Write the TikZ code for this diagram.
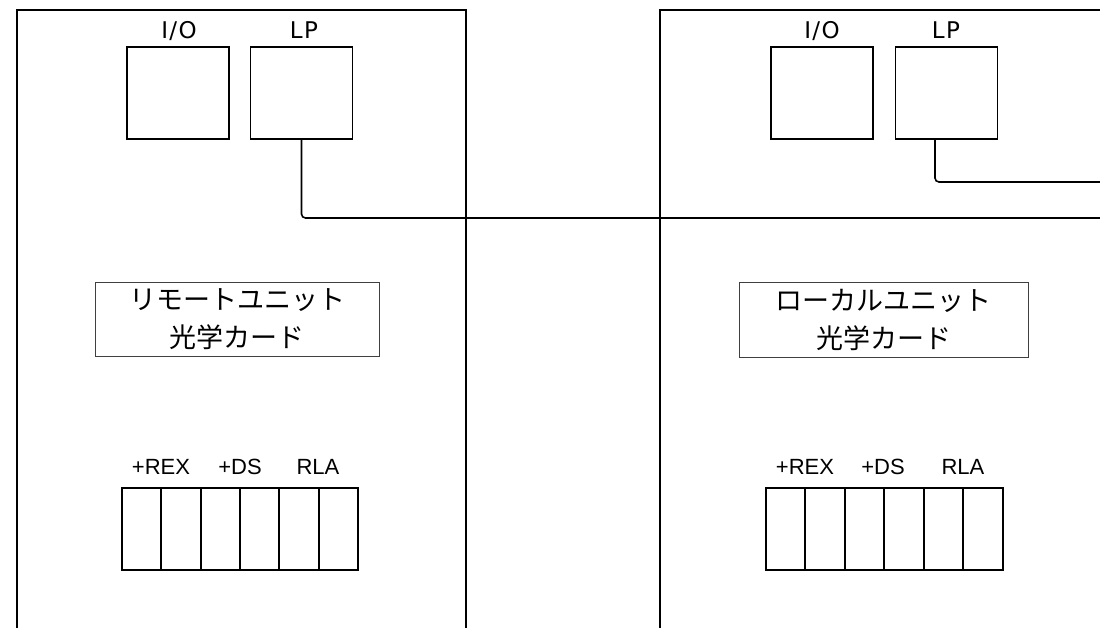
\documentclass[tikz,border=0pt]{standalone}
\usepackage{fontspec}
\newfontfamily\jpfont{Noto Sans CJK JP}
\newfontfamily\hvfont{Liberation Sans}
\newfontfamily\geofont[LetterSpace=6]{DejaVu Sans}
\begin{document}
\begin{tikzpicture}[x=1pt,y=-1pt,
  panel/.style={draw,line width=1.6pt,rectangle,inner sep=0pt,anchor=north west},
  sqbox/.style={draw,line width=1.6pt,rectangle,inner sep=0pt,minimum width=102pt,minimum height=92pt},
  toplabel/.style={font=\geofont\fontsize{23}{27}\selectfont,inner sep=0pt,anchor=base},
  card/.style={draw,line width=0.9pt,draw=black!75,rectangle,inner sep=0pt,align=center,font=\jpfont\fontsize{27}{38}\selectfont},
  cell/.style={draw,line width=2pt,rectangle,inner sep=0pt,minimum height=82pt},
  pinlabel/.style={font=\hvfont\fontsize{22}{26}\selectfont,inner sep=0pt},
  wire/.style={line width=1.6pt,rounded corners=4pt}]
\useasboundingbox (0,0) rectangle (1100,627);
\clip (0,0) rectangle (1100,627);
\fill[white] (0,0) rectangle (1100,627);
% panels
\node[panel,minimum width=449pt,minimum height=700pt] (P1) at (16,9) {};
\node[panel,minimum width=500pt,minimum height=700pt] (P2) at (659,9) {};
% left top boxes
\node[sqbox] (IO1) at (178,93) {};
\node[sqbox] (LP1) at (301.5,93) {};
\node[toplabel] (IO1l) at (179,38) {I/O};
\node[toplabel] (LP1l) at (304,38) {LP};
% right top boxes
\node[sqbox] (IO2) at (822,93) {};
\node[sqbox] (LP2) at (946.5,93) {};
\node[toplabel] (IO2l) at (822,38) {I/O};
\node[toplabel] (LP2l) at (946,38) {LP};
% cards
\node[card,minimum width=284pt,minimum height=74pt] (C1) at (237,319) {リモートユニット\\光学カード};
\node[card,minimum width=289pt,minimum height=75pt] (C2) at (883.5,319.5) {ローカルユニット\\光学カード};
% connector cells left
\foreach \a/\b [count=\i from 0] in {122/161,161/201,201/240,240/279,279/319,319/358}{
  \node[cell,minimum width={(\b-\a)*1pt}] (A\i) at ({(\a+\b)/2},529) {};
}
\node[pinlabel] (A1l) at (161,467) {+REX};
\node[pinlabel] (A2l) at (240,467) {+DS};
\node[pinlabel] (A3l) at (318,467) {RLA};
% connector cells right
\foreach \a/\b [count=\i from 0] in {766/805,805/845,845/884,884/924,924/963,963/1003}{
  \node[cell,minimum width={(\b-\a)*1pt}] (B\i) at ({(\a+\b)/2},529) {};
}
\node[pinlabel] (B1l) at (805,467) {+REX};
\node[pinlabel] (B2l) at (883,467) {+DS};
\node[pinlabel] (B3l) at (963,467) {RLA};
% wires
\coordinate (E1) at (1110,218);
\coordinate (E2) at (1110,182);
\draw[wire] (LP1.south) -- (LP1.south |- E1) -- (E1);
\draw[wire] ([xshift=-11.5pt]LP2.south) -- ([xshift=-11.5pt]LP2.south |- E2) -- (E2);
\end{tikzpicture}
\end{document}
